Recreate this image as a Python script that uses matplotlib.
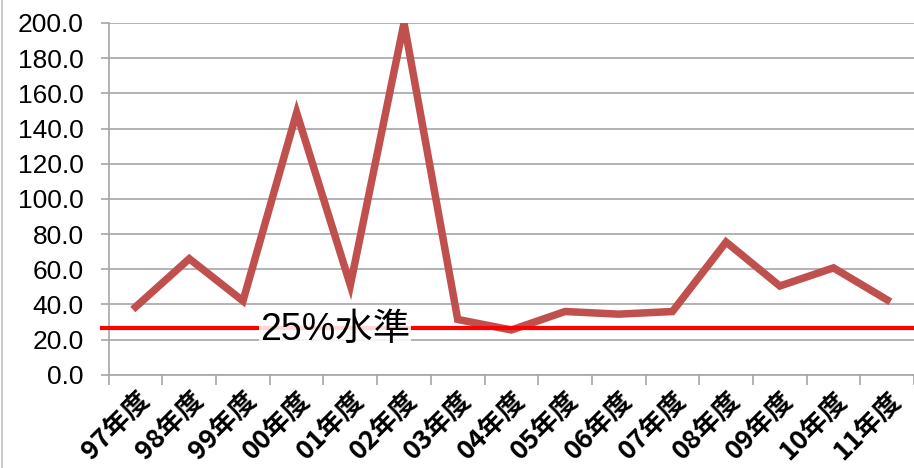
import matplotlib.pyplot as plt
import numpy as np

plt.rcParams['font.family'] = ['Liberation Sans', 'Noto Sans CJK JP']

years = ['97年度', '98年度', '99年度', '00年度', '01年度', '02年度', '03年度', '04年度',
         '05年度', '06年度', '07年度', '08年度', '09年度', '10年度', '11年度']
values = [38.6, 66.0, 42.0, 149.0, 51.0, 200.0, 31.5, 25.5,
          36.0, 34.5, 36.0, 75.5, 50.5, 60.8, 42.6]
level = 26.8
level_label = '25%水準'

fig = plt.figure(figsize=(9.14, 4.68), dpi=100)
ax = fig.add_axes([0.119, 0.199, 0.881, 0.752])

x = np.arange(len(years))
ax.plot(x, values, color='#C0504D', lw=5.4, solid_joinstyle='miter', zorder=3)

ax.axhline(level, xmin=-0.009, xmax=1, color='#FF0000', lw=3, clip_on=False, zorder=4)
ax.text(3.72, level - 1.5, level_label, fontsize=27, ha='center', va='center', zorder=5,
        family=['Liberation Sans', 'Noto Sans CJK JP'],
        bbox=dict(facecolor='white', edgecolor='none', alpha=0.85, pad=0.5))

ax.set_xlim(-0.5, len(years) - 0.5)
ax.set_ylim(0, 200)
ax.set_yticks(np.arange(0, 201, 20))
ax.set_yticklabels(['%.1f' % v for v in np.arange(0, 201, 20)], fontsize=19)
ax.yaxis.grid(True, color='#A6A6A6', lw=1.2)
ax.set_axisbelow(True)

ax.set_xticks(x)
ax.set_xticklabels(years, rotation=45, ha='right', rotation_mode='anchor',
                   fontsize=19, fontweight='bold', family=['Noto Sans CJK JP'])
ax.tick_params(axis='x', length=0, pad=8)
ax.set_xticks(np.arange(-0.5, len(years)), minor=True)
ax.tick_params(axis='x', which='minor', length=7, color='#A6A6A6', width=1.2)
ax.tick_params(axis='y', length=6, color='#A6A6A6', width=1.2, pad=12)

for side in ['top', 'right']:
    ax.spines[side].set_visible(False)
for side in ['left', 'bottom']:
    ax.spines[side].set_color('#A6A6A6')
    ax.spines[side].set_linewidth(1.2)

fig.add_artist(plt.Line2D([0.002, 0.002], [0, 1], color='#BFBFBF', lw=1.2))

fig.savefig('out.png', dpi=100)
